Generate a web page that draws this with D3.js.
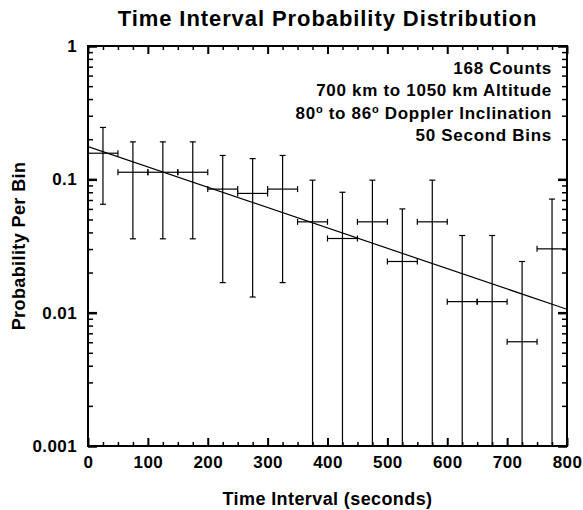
<!DOCTYPE html>
<html>
<head>
<meta charset="utf-8">
<script src="https://cdn.jsdelivr.net/npm/d3@7"></script>
<style>
  html, body { margin: 0; padding: 0; background: #fff; }
  svg { display: block; }
  text { font-family: "Liberation Sans", Arial, Helvetica, sans-serif; font-weight: bold; fill: #000; }
</style>
</head>
<body>
<svg id="chart" width="583" height="510"></svg>
<script>
// ---- data ----
const binCenters = [25, 75, 125, 175, 225, 275, 325, 375, 425, 475, 525, 575, 625, 675, 725, 775];
const binHalfWidth = 25;
const probability = [0.157, 0.113, 0.113, 0.113, 0.0845, 0.0784, 0.0845, 0.048, 0.036, 0.048, 0.0242, 0.048, 0.0121, 0.0121, 0.00605, 0.0301];
const upperBound = [0.245, 0.191, 0.191, 0.191, 0.151, 0.143, 0.151, 0.0986, 0.080, 0.0986, 0.060, 0.0986, 0.0379, 0.0379, 0.0242, 0.0711];
const lowerBound = [0.065, 0.0358, 0.0358, 0.0358, 0.0168, 0.0131, 0.0168, null, null, null, null, null, null, null, null, null];
const fitX = [0, 800];
const fitY = [0.176, 0.0106];
const xTickLabels = [0, 100, 200, 300, 400, 500, 600, 700, 800];
const yTickLabels = [0.001, 0.01, 0.1, 1];
const yTickText = ["0.001", "0.01", "0.1", "1"];
const annotation = ["168 Counts", "700 km to 1050 km Altitude", "80|o| to 86|o| Doppler Inclination", "50 Second Bins"];
const titleText = "Time Interval Probability Distribution";
const xTitle = "Time Interval (seconds)";
const yTitle = "Probability Per Bin";

// ---- layout ----
const svg = d3.select("#chart");
const L = 88, R = 567, T = 46, B = 446;
const x = d3.scaleLinear().domain([0, 800]).range([L, R]);
const y = d3.scaleLog().domain([0.001, 1]).range([B, T]);

// minor ticks
const xMinor = d3.range(0, 801, 25).filter(v => v % 100 !== 0);
const yMinor = y.ticks().filter(v => !yTickLabels.some(t => Math.abs(t - v) < 1e-12));

const tickStyle = (g, w) => { g.select(".domain").remove(); g.selectAll(".tick line").attr("stroke", "#000").attr("stroke-width", w); };
const labelStyle = g => g.selectAll("text").attr("font-size", 17).attr("letter-spacing", 0.4)
  .attr("font-family", '"Liberation Sans", Arial, sans-serif').attr("font-weight", "bold");

// Y axes left
svg.append("g").attr("transform", `translate(${L},0)`)
  .call(d3.axisLeft(y).tickValues(yMinor).tickSize(-5).tickFormat(""))
  .call(g => tickStyle(g, 1.5));
svg.append("g").attr("transform", `translate(${L},0)`)
  .call(d3.axisLeft(y).tickValues(yTickLabels).tickSize(-9).tickPadding(11)
        .tickFormat((d, i) => yTickText[i]))
  .call(g => tickStyle(g, 2.5))
  .call(labelStyle);
// Y axes right
svg.append("g").attr("transform", `translate(${R},0)`)
  .call(d3.axisRight(y).tickValues(yMinor).tickSize(-5).tickFormat(""))
  .call(g => tickStyle(g, 1.5));
svg.append("g").attr("transform", `translate(${R},0)`)
  .call(d3.axisRight(y).tickValues(yTickLabels).tickSize(-9).tickFormat(""))
  .call(g => tickStyle(g, 2.5));

// X axes bottom
svg.append("g").attr("transform", `translate(0,${B})`)
  .call(d3.axisBottom(x).tickValues(xMinor).tickSize(-4).tickFormat(""))
  .call(g => tickStyle(g, 1.5));
svg.append("g").attr("transform", `translate(0,${B})`)
  .call(d3.axisBottom(x).tickValues(xTickLabels).tickSize(-8).tickPadding(10).tickFormat(d3.format("d")))
  .call(g => tickStyle(g, 2))
  .call(labelStyle);
// X axes top
svg.append("g").attr("transform", `translate(0,${T})`)
  .call(d3.axisTop(x).tickValues(xMinor).tickSize(-4).tickFormat(""))
  .call(g => tickStyle(g, 1.5));
svg.append("g").attr("transform", `translate(0,${T})`)
  .call(d3.axisTop(x).tickValues(xTickLabels).tickSize(-8).tickFormat(""))
  .call(g => tickStyle(g, 2));

// clip
svg.append("clipPath").attr("id", "plotclip").append("rect")
  .attr("x", L).attr("y", T).attr("width", R - L).attr("height", B - T);
const plot = svg.append("g").attr("clip-path", "url(#plotclip)");

const data = binCenters.map((c, i) => ({ c, p: probability[i], hi: upperBound[i], lo: lowerBound[i] }));
const cap = 3;

// fit line
const line = d3.line().x(d => x(d[0])).y(d => y(d[1]));
plot.append("path").datum(fitX.map((v, i) => [v, fitY[i]]))
  .attr("d", line).attr("fill", "none").attr("stroke", "#000").attr("stroke-width", 1.2);

const eb = plot.selectAll("g.eb").data(data).join("g").attr("class", "eb")
  .attr("stroke", "#000").attr("stroke-width", 1.2).attr("fill", "none");
// vertical error bars
eb.append("line")
  .attr("x1", d => x(d.c)).attr("x2", d => x(d.c))
  .attr("y1", d => y(d.hi)).attr("y2", d => d.lo == null ? B + 2 : y(d.lo));
eb.append("line")
  .attr("x1", d => x(d.c) - cap).attr("x2", d => x(d.c) + cap)
  .attr("y1", d => y(d.hi)).attr("y2", d => y(d.hi));
eb.filter(d => d.lo != null).append("line")
  .attr("x1", d => x(d.c) - cap).attr("x2", d => x(d.c) + cap)
  .attr("y1", d => y(d.lo)).attr("y2", d => y(d.lo));
// horizontal bars (bin widths)
eb.append("line")
  .attr("x1", d => x(d.c - binHalfWidth)).attr("x2", d => x(d.c + binHalfWidth))
  .attr("y1", d => y(d.p)).attr("y2", d => y(d.p));
eb.append("line")
  .attr("x1", d => x(d.c - binHalfWidth)).attr("x2", d => x(d.c - binHalfWidth))
  .attr("y1", d => y(d.p) - cap).attr("y2", d => y(d.p) + cap);
eb.append("line")
  .attr("x1", d => x(d.c + binHalfWidth)).attr("x2", d => x(d.c + binHalfWidth))
  .attr("y1", d => y(d.p) - cap).attr("y2", d => y(d.p) + cap);

// frame
svg.append("rect").attr("x", L).attr("y", T).attr("width", R - L).attr("height", B - T)
  .attr("fill", "none").attr("stroke", "#000").attr("stroke-width", 2);

// annotation
const ann = svg.append("g");
annotation.forEach((s, i) => {
  const t = ann.append("text").attr("x", 552).attr("y", 74 + i * 22.4)
    .attr("text-anchor", "end").attr("font-size", 17).attr("letter-spacing", 0.7);
  s.split("|").forEach((part, j) => {
    const sp = t.append("tspan").text(part);
    if (part === "o") sp.attr("font-size", 11).attr("dy", -6);
    else if (j > 0) sp.attr("dy", 6);
  });
});

// titles
svg.append("text").attr("x", (L + R) / 2).attr("y", 26).attr("text-anchor", "middle")
  .attr("font-size", 22).attr("letter-spacing", 0.92).text(titleText);
svg.append("text").attr("x", (L + R) / 2).attr("y", 505).attr("text-anchor", "middle")
  .attr("font-size", 18).attr("letter-spacing", 0.4).text(xTitle);
svg.append("text").attr("transform", `translate(25,${(T + B) / 2}) rotate(-90)`).attr("text-anchor", "middle")
  .attr("font-size", 18).attr("letter-spacing", 0.4).text(yTitle);
</script>
</body>
</html>
